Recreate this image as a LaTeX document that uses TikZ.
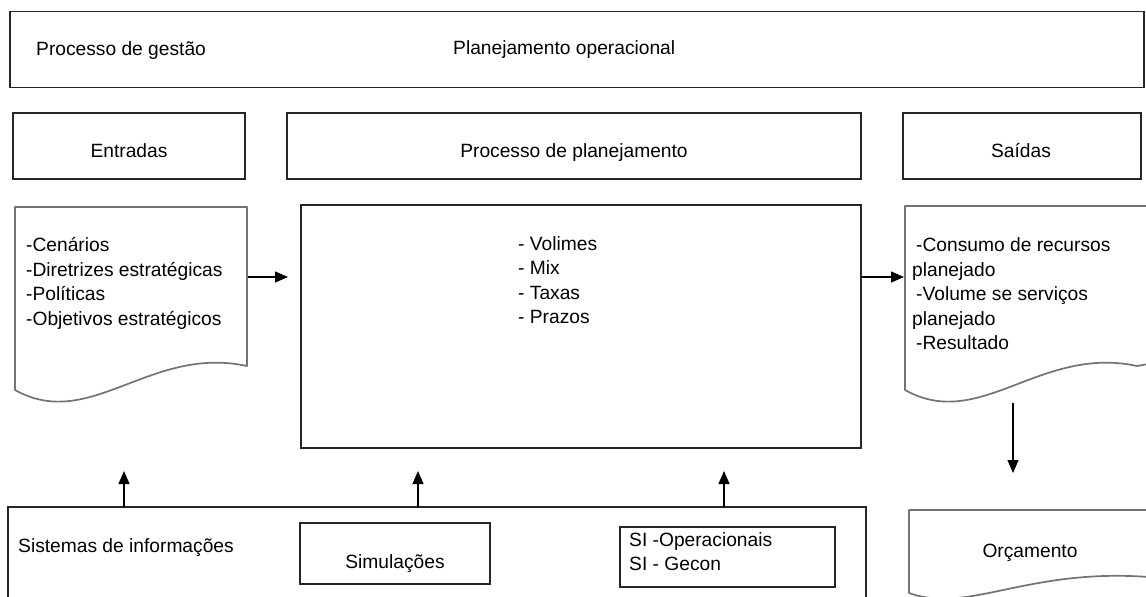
\documentclass[tikz,border=0pt]{standalone}
\usepackage{fontspec}
\setmainfont{Liberation Sans}
\usetikzlibrary{arrows.meta}
\begin{document}
\begin{tikzpicture}[x=1pt,y=-1pt,
  box/.style={draw=black!85,line width=1.1pt,inner sep=0},
  doc/.style={draw=black!55,line width=1.7pt,line join=round},
  lbl/.style={inner sep=0,font=\fontsize{19.2}{25}\selectfont},
  conn/.style={black,line width=1.1pt,-{Triangle[length=13pt,width=11pt]}}]
\useasboundingbox (0,0) rectangle (1146,597);
% top band
\node[box,minimum width=1134pt,minimum height=76pt] (top) at (577,49.5) {};
\node[lbl,anchor=base west] (gestao) at (36,55) {Processo de gestão};
\node[lbl,anchor=base west] (planop) at (453,54) {Planejamento operacional};
% header boxes
\node[box,minimum width=232pt,minimum height=66pt] (ent) at (129,146) {};
\node[lbl,anchor=base] (entt) at (129,157) {Entradas};
\node[box,minimum width=574pt,minimum height=66pt] (proc) at (574,146) {};
\node[lbl,anchor=base] (proct) at (574,157) {Processo de planejamento};
\node[box,minimum width=238pt,minimum height=66pt] (sai) at (1022,146) {};
\node[lbl,anchor=base] (sait) at (1021,157) {Saídas};
% Entradas document
\draw[doc] (15,390) -- (15,207) -- (247,207) -- (247,366)
  .. controls (150,345) and (90,432) .. (15,390) -- cycle;
\node[lbl,anchor=base west] (e1) at (26,251) {-Cenários};
\node[lbl,anchor=base west] (e2) at (26,276) {-Diretrizes estratégicas};
\node[lbl,anchor=base west] (e3) at (26,300) {-Políticas};
\node[lbl,anchor=base west] (e4) at (26,325) {-Objetivos estratégicos};
% centre box
\node[box,minimum width=560pt,minimum height=243pt] (center) at (581,326.5) {};
\node[lbl,anchor=base west] (c1) at (518,250) {- Volimes};
\node[lbl,anchor=base west] (c2) at (518,274) {- Mix};
\node[lbl,anchor=base west] (c3) at (518,299) {- Taxas};
\node[lbl,anchor=base west] (c4) at (518,323) {- Prazos};
% Saidas document
\draw[doc] (905,390) -- (905,206) -- (1160,206) -- (1160,362) -- (1137,366)
  .. controls (1040,345) and (980,432) .. (905,390) -- cycle;
\node[lbl,anchor=base west] (s1) at (916,251) {-Consumo de recursos};
\node[lbl,anchor=base west] (s2) at (912,276) {planejado};
\node[lbl,anchor=base west] (s3) at (916,300) {-Volume se serviços};
\node[lbl,anchor=base west] (s4) at (912,325) {planejado};
\node[lbl,anchor=base west] (s5) at (916,349) {-Resultado};
% Orcamento document
\draw[doc] (909,593) -- (909,510) -- (1160,510) -- (1160,578)
  .. controls (1030,565) and (970,615) .. (909,593) -- cycle;
\node[lbl,anchor=base] (orc) at (1030,557) {Orçamento};
% bottom system box
\draw[box] (8,610) -- (8,507) -- (866,507) -- (866,610);
\node[lbl,anchor=base west] (sis) at (18,552) {Sistemas de informações};
\node[box,minimum width=190pt,minimum height=61pt] (sim) at (395,553.5) {};
\node[lbl,anchor=base] (simt) at (395,568) {Simulações};
\node[box,minimum width=215pt,minimum height=60pt] (si) at (727.5,557) {};
\node[lbl,anchor=base west] (si1) at (629,546) {SI -Operacionais};
\node[lbl,anchor=base west] (si2) at (629,570) {SI - Gecon};
% connector coordinates
\coordinate (a1s) at (248,277); \coordinate (a1e) at (288,277);
\coordinate (a2s) at (861,277); \coordinate (a2e) at (904,277);
\coordinate (a3s) at (1013,403); \coordinate (a3e) at (1013,473);
\coordinate (b1s) at (124,507); \coordinate (b1e) at (124,471);
\coordinate (b2s) at (418,507); \coordinate (b2e) at (418,471);
\coordinate (b3s) at (724,507); \coordinate (b3e) at (724,471);
\draw[conn] (a1s) -- (a1e);
\draw[conn] (a2s) -- (a2e);
\draw[conn] (a3s) -- (a3e);
\draw[conn] (b1s) -- (b1e);
\draw[conn] (b2s) -- (b2e);
\draw[conn] (b3s) -- (b3e);
\end{tikzpicture}
\end{document}
